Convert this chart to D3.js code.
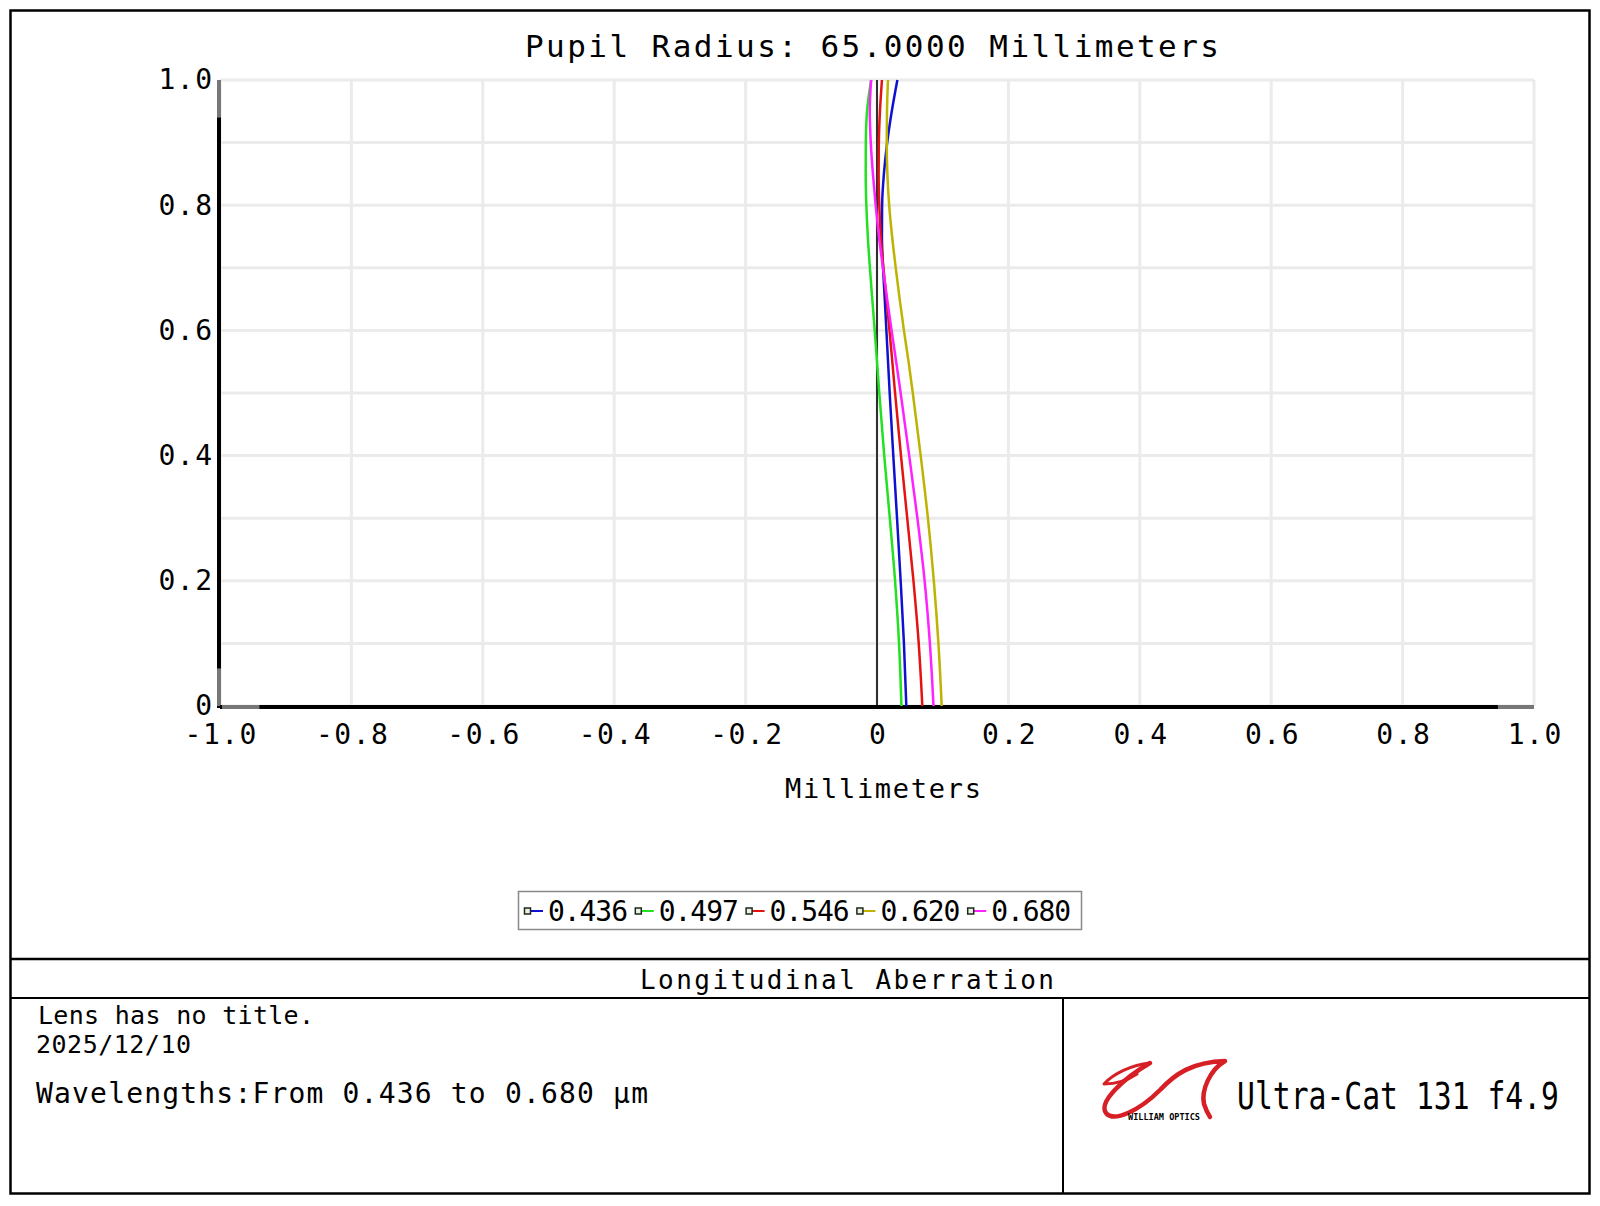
<!DOCTYPE html>
<html>
<head>
<meta charset="utf-8">
<script src="https://cdn.jsdelivr.net/npm/d3@7"></script>
<style>
  body { margin: 0; background: #fff; }
  svg text { font-family: "DejaVu Sans Mono", monospace; fill: #000; }
</style>
</head>
<body>
<svg id="chart" width="1600" height="1206"></svg>
<script>
// Data (relative pupil height vs focus shift in mm)
let pupil = [0, 0.1, 0.2, 0.3, 0.4, 0.5, 0.55, 0.6, 0.65, 0.7, 0.75, 0.8, 0.85, 0.9, 0.95, 1.0];
let s436 = [0.0446, 0.041, 0.036, 0.0305, 0.0248, 0.0193, 0.0168, 0.0143, 0.0118, 0.0092, 0.0075, 0.0078, 0.0105, 0.0155, 0.0225, 0.031];
let s497 = [0.0372, 0.0335, 0.0275, 0.0195, 0.011, 0.0035, 0.0, -0.0035, -0.0072, -0.0108, -0.014, -0.0162, -0.0172, -0.017, -0.0152, -0.0088];
let s546 = [0.069, 0.0635, 0.0555, 0.046, 0.0365, 0.0275, 0.0233, 0.019, 0.0145, 0.0098, 0.0058, 0.0035, 0.0025, 0.0028, 0.0045, 0.0075];
let s620 = [0.0985, 0.0935, 0.0865, 0.0775, 0.0665, 0.0545, 0.048, 0.041, 0.0345, 0.0285, 0.023, 0.0185, 0.0158, 0.0148, 0.0152, 0.0167];
let s680 = [0.086, 0.0805, 0.0725, 0.0615, 0.049, 0.036, 0.0292, 0.0222, 0.0155, 0.009, 0.003, -0.002, -0.0062, -0.0095, -0.011, -0.009];

let waveLabels = ["0.436", "0.497", "0.546", "0.620", "0.680"];
let waveColors = ["#1010d0", "#22e022", "#e51212", "#bdb300", "#ff22ff"];
let xTicks = [-1, -0.8, -0.6, -0.4, -0.2, 0, 0.2, 0.4, 0.6, 0.8, 1];
let yTicks = [0, 0.2, 0.4, 0.6, 0.8, 1];

let allSeries = [s436, s497, s546, s620, s680];

let svg = d3.select("#chart");

// scales
let x = d3.scaleLinear().domain([-1, 1]).range([220, 1534]);
let y = d3.scaleLinear().domain([0, 1]).range([706, 80]);

// outer frame and footer boxes
svg.append("rect").attr("x", 10.5).attr("y", 10.5).attr("width", 1579).attr("height", 1183)
  .attr("fill", "none").attr("stroke", "#000").attr("stroke-width", 2.5);
svg.append("line").attr("x1", 10).attr("x2", 1590).attr("y1", 959).attr("y2", 959)
  .attr("stroke", "#000").attr("stroke-width", 2.5);
svg.append("line").attr("x1", 10).attr("x2", 1590).attr("y1", 998).attr("y2", 998)
  .attr("stroke", "#000").attr("stroke-width", 2);
svg.append("line").attr("x1", 1063).attr("x2", 1063).attr("y1", 998).attr("y2", 1194)
  .attr("stroke", "#000").attr("stroke-width", 2);

// grid
let grid = svg.append("g");
grid.selectAll(".vg").data(x.ticks(10)).enter().append("line")
  .attr("x1", d => x(d)).attr("x2", d => x(d)).attr("y1", y(1)).attr("y2", y(0))
  .attr("stroke", "#ebebeb").attr("stroke-width", 3);
grid.selectAll(".hg").data(y.ticks(10)).enter().append("line")
  .attr("x1", x(-1)).attr("x2", x(1)).attr("y1", d => y(d)).attr("y2", d => y(d))
  .attr("stroke", "#ebebeb").attr("stroke-width", 3);

// axes (labels from d3 axes, lines drawn by hand to get the heavy look)
let fmt = d => d === 0 ? "0" : d.toFixed(1);

let yAxis = svg.append("g").attr("transform", "translate(219,0)")
  .call(d3.axisLeft(y).tickValues(yTicks).tickSize(0).tickPadding(7).tickFormat(fmt));
yAxis.select(".domain").remove();
yAxis.selectAll("text").attr("font-size", 28).attr("letter-spacing", 1.5).attr("dx", 1.5)
  .attr("font-family", "DejaVu Sans Mono").attr("fill", "#000");

let xAxis = svg.append("g").attr("transform", "translate(0,706)")
  .call(d3.axisBottom(x).tickValues(xTicks).tickSize(0).tickPadding(18).tickFormat(fmt));
xAxis.select(".domain").remove();
xAxis.selectAll("text").attr("font-size", 28).attr("letter-spacing", 1.5).attr("dx", 0.75)
  .attr("font-family", "DejaVu Sans Mono").attr("fill", "#000");

svg.append("line").attr("x1", 219).attr("x2", 219).attr("y1", y(1)).attr("y2", y(0) + 2)
  .attr("stroke", "#000").attr("stroke-width", 4);
svg.append("line").attr("x1", 219).attr("x2", 219).attr("y1", y(1)).attr("y2", y(0.94))
  .attr("stroke", "#777").attr("stroke-width", 4);
svg.append("line").attr("x1", 219).attr("x2", 219).attr("y1", y(0.06)).attr("y2", y(0))
  .attr("stroke", "#777").attr("stroke-width", 4);
svg.append("line").attr("x1", 220).attr("x2", x(1)).attr("y1", 707).attr("y2", 707)
  .attr("stroke", "#000").attr("stroke-width", 4);
svg.append("line").attr("x1", 222).attr("x2", x(-0.94)).attr("y1", 707).attr("y2", 707)
  .attr("stroke", "#777").attr("stroke-width", 4);
svg.append("line").attr("x1", x(0.945)).attr("x2", x(1)).attr("y1", 707).attr("y2", 707)
  .attr("stroke", "#777").attr("stroke-width", 4);

// zero focus line
svg.append("line").attr("x1", x(0)).attr("x2", x(0)).attr("y1", y(1)).attr("y2", y(0))
  .attr("stroke", "#000").attr("stroke-width", 1.6);

// aberration curves
let line = d3.line()
  .x(d => x(d[0]))
  .y(d => y(d[1]))
  .curve(d3.curveMonotoneY);

allSeries.forEach(function(s, i) {
  let pts = s.map((v, k) => [v, pupil[k]]);
  svg.append("path").datum(pts)
    .attr("d", line)
    .attr("fill", "none")
    .attr("stroke", waveColors[i])
    .attr("stroke-width", 2.5);
});

// titles
svg.append("text").attr("x", 525).attr("y", 57)
  .attr("font-size", 31).attr("textLength", 694).attr("lengthAdjust", "spacing")
  .text("Pupil Radius: 65.0000 Millimeters");
svg.append("text").attr("x", 785).attr("y", 798)
  .attr("font-size", 27).attr("textLength", 196).attr("lengthAdjust", "spacing")
  .text("Millimeters");

// legend
svg.append("rect").attr("x", 518.5).attr("y", 891.5).attr("width", 563).attr("height", 38)
  .attr("fill", "#fff").attr("stroke", "#888").attr("stroke-width", 1.5);
let legendItem = svg.selectAll(".leg").data(waveLabels).enter().append("g")
  .attr("transform", (d, i) => "translate(" + (527 + i * 110.8) + ",911)");
legendItem.append("line").attr("x1", 3).attr("x2", 16).attr("y1", 0).attr("y2", 0)
  .attr("stroke", (d, i) => waveColors[i]).attr("stroke-width", 2);
legendItem.append("rect").attr("x", -2.5).attr("y", -3).attr("width", 6).attr("height", 6)
  .attr("fill", "#eef0e6").attr("stroke", "#1a2a1a").attr("stroke-width", 1.5);
legendItem.append("text").attr("x", 21).attr("y", 10)
  .attr("font-size", 28).attr("textLength", 80).attr("lengthAdjust", "spacing")
  .text(d => d);

// footer
svg.append("text").attr("x", 640).attr("y", 989)
  .attr("font-size", 26).attr("textLength", 414).attr("lengthAdjust", "spacing")
  .text("Longitudinal Aberration");
svg.append("text").attr("x", 38).attr("y", 1024)
  .attr("font-size", 25).attr("textLength", 276).attr("lengthAdjust", "spacing")
  .text("Lens has no title.");
svg.append("text").attr("x", 36).attr("y", 1053)
  .attr("font-size", 25).attr("textLength", 155).attr("lengthAdjust", "spacing")
  .text("2025/12/10");
svg.append("text").attr("x", 36).attr("y", 1103)
  .attr("font-size", 28).attr("textLength", 612).attr("lengthAdjust", "spacing")
  .text("Wavelengths:From 0.436 to 0.680 µm");

// logo
let logo = svg.append("g").attr("fill", "none").attr("stroke", "#d71f26")
  .attr("stroke-linecap", "round").attr("stroke-linejoin", "round");
logo.append("path").attr("stroke-width", 3)
  .attr("d", "M1150,1063 C1132,1065 1114,1073 1104,1084 C1116,1084 1128,1080 1137,1074");
logo.append("path").attr("stroke-width", 4.5)
  .attr("d", "M1150,1063 C1124,1078 1098,1102 1106,1113 C1114,1123 1140,1110 1160,1090 C1175,1074 1192,1062 1225,1061 C1210,1070 1201,1090 1204,1104 C1206,1110 1208,1114 1210,1117");
svg.append("text").attr("x", 1128).attr("y", 1120)
  .attr("font-family", "Liberation Sans").attr("font-weight", "bold")
  .attr("font-size", 8.5).attr("textLength", 72).attr("lengthAdjust", "spacingAndGlyphs")
  .text("WILLIAM OPTICS");
svg.append("text").attr("x", 1237).attr("y", 1109)
  .attr("font-family", "Roboto").attr("font-size", 37)
  .attr("textLength", 322).attr("lengthAdjust", "spacingAndGlyphs")
  .text("Ultra-Cat 131 f4.9");
</script>
</body>
</html>
